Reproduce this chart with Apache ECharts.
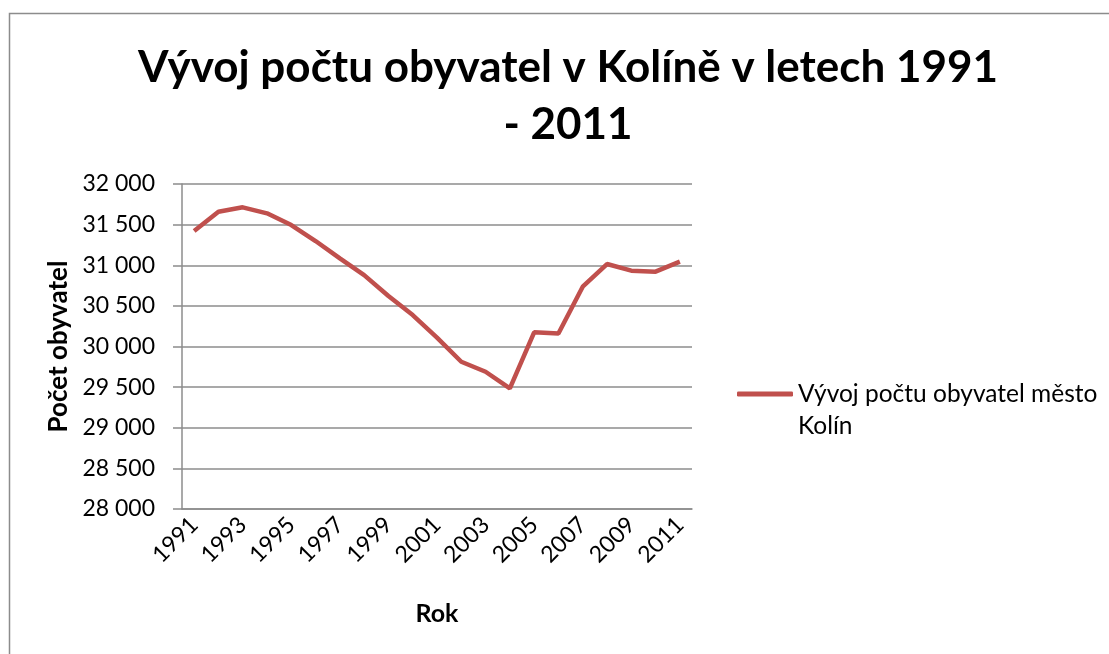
<!DOCTYPE html>
<html><head><meta charset="utf-8">
<script src="https://cdn.jsdelivr.net/npm/echarts@6/dist/echarts.min.js"></script>
<style>html,body{margin:0;padding:0;background:#fff}#c{width:1109px;height:654px}</style>
</head><body><div id="c"></div>
<script>
var years = ['1991','1992','1993','1994','1995','1996','1997','1998','1999','2000','2001','2002','2003','2004','2005','2006','2007','2008','2009','2010','2011'];
var population = [31421,31659,31713,31639,31495,31298,31085,30879,30621,30387,30110,29812,29689,29484,30174,30161,30736,31015,30933,30921,31044];
var yTicks = {min: 28000, max: 32000, interval: 500};
var titleText = 'Vývoj počtu obyvatel v Kolíně v letech 1991\n- 2011';
var seriesName = 'Vývoj počtu obyvatel město Kolín';

var FONT = 'Lato';
var chart = echarts.init(document.getElementById('c'));
chart.setOption({
  backgroundColor: '#fff',
  animation: false,
  graphic: [{type:'rect', shape:{x:9.5,y:13.5,width:1200,height:700}, style:{fill:'none', stroke:'#8c8c8c', lineWidth:1.5}, silent:true}],
  title: {
    text: titleText, left: 563, top: 34, textAlign: 'center',
    textStyle: {fontFamily: FONT, fontWeight: 'bold', fontSize: 44, lineHeight: 57, color: '#000'}
  },
  legend: {
    left: 732, top: 341, itemWidth: 56, itemHeight: 5, itemGap: 0,
    data: [{name: seriesName, icon: 'roundRect'}],
    itemStyle: {color: '#C0504D'},
    formatter: function(name){ var i = name.lastIndexOf(' '); return '\n' + name.slice(0, i) + '\n' + name.slice(i + 1); },
    textStyle: {fontFamily: FONT, fontSize: 24.5, color: '#000', lineHeight: 32}
  },
  grid: {left: 182, right: 417, top: 184, bottom: 145},
  xAxis: {
    type: 'category', data: years, boundaryGap: true,
    name: 'Rok', nameLocation: 'middle', nameGap: 92,
    nameTextStyle: {fontFamily: FONT, fontWeight: 'bold', fontSize: 25, color: '#000'},
    axisLine: {lineStyle: {color: '#8c8c8c', width: 1.5}},
    axisTick: {show: false},
    axisLabel: {interval: 1, rotate: 45, margin: 12, fontFamily: FONT, fontSize: 23, color: '#000'}
  },
  yAxis: {
    type: 'value', min: yTicks.min, max: yTicks.max, interval: yTicks.interval,
    name: 'Počet obyvatel', nameLocation: 'middle', nameGap: 110, nameRotate: 90,
    nameTextStyle: {fontFamily: FONT, fontWeight: 'bold', fontSize: 26, color: '#000'},
    axisLine: {show: true, lineStyle: {color: '#8c8c8c', width: 1.5}},
    axisTick: {show: true, length: 9, lineStyle: {color: '#8c8c8c', width: 1.5}},
    splitLine: {lineStyle: {color: '#8c8c8c', width: 1.5}},
    axisLabel: {margin: 27, fontFamily: FONT, fontSize: 23, color: '#000',
      formatter: function(v){ return String(v).replace(/\B(?=(\d{3})+(?!\d))/g, ' '); }}
  },
  series: [{
    name: seriesName, type: 'line', data: population, symbol: 'none', smooth: false,
    lineStyle: {color: '#C0504D', width: 4.5}, itemStyle: {color: '#C0504D'}
  }]
});
</script></body></html>
